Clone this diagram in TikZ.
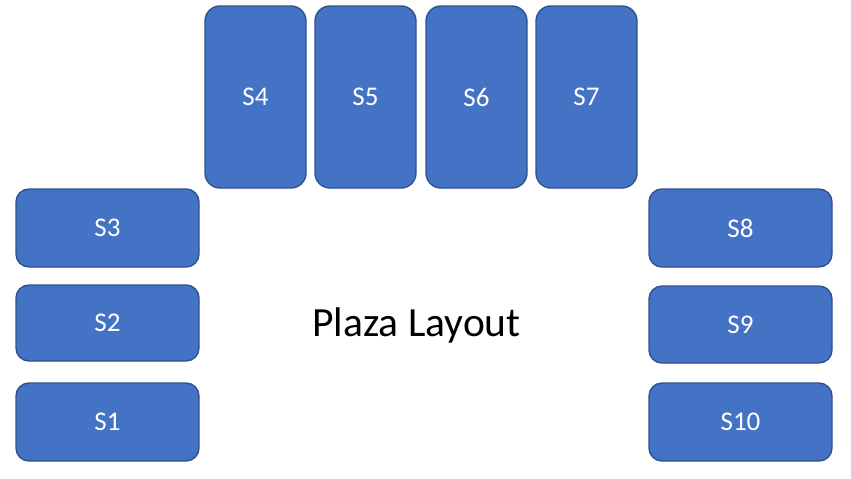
\documentclass[tikz,border=0pt]{standalone}
\usepackage{fontspec}
\setmainfont{Carlito}
\definecolor{boxfill}{HTML}{4472C4}
\definecolor{boxline}{HTML}{2F528F}
\begin{document}
\begin{tikzpicture}[x=1pt,y=-1pt,
  stall/.style={draw=boxline,fill=boxfill,line width=1.4pt,rounded corners=13pt,
    text=white,font=\fontsize{27}{32}\selectfont,inner sep=0pt},
  tall/.style={stall,minimum width=101pt,minimum height=182pt,rounded corners=15pt},
  wide/.style={stall,minimum width=183pt,minimum height=78pt}]
\useasboundingbox[fill=white] (0,0) rectangle (851,479);
\node[tall] (s4) at (255.5,97) {S4};
\node[tall] (s5) at (365.5,97) {S5};
\node[tall] (s6) at (476.5,97) {S6};
\node[tall] (s7) at (586.5,97) {S7};
\node[wide] (s3) at (107.5,228) {S3};
\node[wide,minimum height=76pt] (s2) at (107.5,323) {S2};
\node[wide] (s1) at (107.5,422) {S1};
\node[wide] (s8) at (740.5,228) {S8};
\node[wide,minimum height=77pt] (s9) at (740.5,324.5) {S9};
\node[wide] (s10) at (740.5,422) {S10};
\node[anchor=base,font=\fontsize{41.5}{48}\selectfont,inner sep=0pt] (title) at (416.5,336) {Plaza Layout};
\end{tikzpicture}
\end{document}
